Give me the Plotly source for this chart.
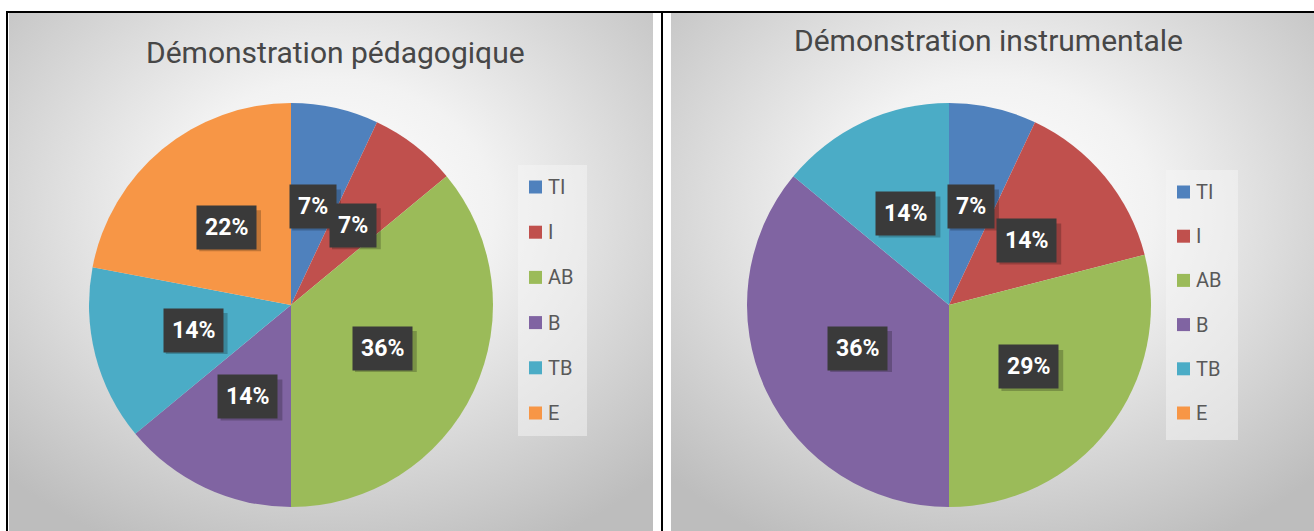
import base64
import math
import plotly.graph_objects as go

# ---------------- data ----------------
categories = ["TI", "I", "AB", "B", "TB", "E"]
ped_values = [7, 7, 36, 14, 14, 22]          # Démonstration pédagogique (%)
instr_values = [7, 14, 29, 36, 14, 0]        # Démonstration instrumentale (%)
titles = ["Démonstration pédagogique", "Démonstration instrumentale"]
colors = ["#4F81BD", "#C0504D", "#9BBB59", "#8064A2", "#4BACC6", "#F79646"]

W, H = 1314, 531


def px(x):
    return x / W


def py(y):
    return 1 - y / H


# panel geometry (pixels)
panels = [
    dict(box=(9, 13, 653, 531), center=(291, 305), radius=202,
         title=(335, 52), legend_box=(518, 165, 587, 436),
         legend_sq_x=529, legend_y0=187, legend_dy=45.2, values=ped_values),
    dict(box=(671, 13, 1314, 531), center=(949, 305), radius=202,
         title=(988, 40), legend_box=(1166, 170, 1238, 440),
         legend_sq_x=1177, legend_y0=192, legend_dy=44.2, values=instr_values),
]

FONT = "Roboto, 'Open Sans', 'DejaVu Sans', sans-serif"
LABEL_SIZE = 23
PAD = 8

fig = go.Figure()
shapes = []
annotations = []
images = []

svg = (
    '<svg xmlns="http://www.w3.org/2000/svg" width="640" height="520" preserveAspectRatio="none">'
    '<defs><radialGradient id="g" cx="50%" cy="38%" r="72%">'
    '<stop offset="0" stop-color="#ffffff"/>'
    '<stop offset="0.35" stop-color="#f2f2f2"/>'
    '<stop offset="1" stop-color="#bdbdbd"/>'
    '</radialGradient></defs>'
    '<rect x="0" y="0" width="640" height="520" fill="url(#g)"/></svg>'
)
bg_src = "data:image/svg+xml;base64," + base64.b64encode(svg.encode()).decode()


def label_width(txt):
    # approximate rendered width of bold label text (digits + %)
    w = 0
    for ch in txt:
        w += 0.73 if ch == "%" else 0.565
    return w * LABEL_SIZE + 2 * PAD + 2


for p, title in zip(panels, titles):
    x0, y0, x1, y1 = p["box"]
    images.append(dict(source=bg_src, xref="paper", yref="paper",
                       x=px(x0), y=py(y0), sizex=px(x1) - px(x0), sizey=(y1 - y0) / H,
                       xanchor="left", yanchor="top", sizing="stretch", layer="below"))

    cx, cy = p["center"]
    R = p["radius"]
    fig.add_trace(go.Pie(
        labels=categories, values=p["values"], sort=False, direction="clockwise",
        rotation=0, textinfo="none", showlegend=False,
        marker=dict(colors=colors, line=dict(width=0)),
        domain=dict(x=[px(cx - R), px(cx + R)], y=[py(cy + R), py(cy - R)]),
        hovertemplate="%{label}: %{value}%<extra></extra>",
    ))

    # data labels (dark boxes) placed at the middle angle of each slice
    total = sum(p["values"])
    cum = 0
    for v in p["values"]:
        if v > 0:
            frac = (cum + v / 2) / total
            ang = 2 * math.pi * frac
            r = 0.5 * R
            lx = cx + r * math.sin(ang)
            ly = cy - r * math.cos(ang)
            txt = f"{v}%"
            bw = label_width(txt)
            bh = 40
            # soft drop shadow behind the label box
            shapes.append(dict(type="rect", xref="paper", yref="paper",
                               x0=px(lx - bw / 2 + 3), x1=px(lx + bw / 2 + 4),
                               y0=py(ly + bh / 2 + 4), y1=py(ly - bh / 2 + 3),
                               fillcolor="rgba(0,0,0,0.22)", line=dict(width=0)))
            annotations.append(dict(
                x=px(lx), y=py(ly), xref="paper", yref="paper", showarrow=False,
                text=f"<b>{txt}</b>", font=dict(family=FONT, size=LABEL_SIZE, color="white"),
                bgcolor="#3a3a3a", borderpad=PAD, xanchor="center", yanchor="middle"))
        cum += v

    # title
    tx, ty = p["title"]
    annotations.append(dict(x=px(tx), y=py(ty), xref="paper", yref="paper",
                            showarrow=False, text=title,
                            font=dict(family=FONT, size=30, color="#474747"),
                            xanchor="center", yanchor="middle"))

    # legend
    lx0, ly0, lx1, ly1 = p["legend_box"]
    shapes.append(dict(type="rect", xref="paper", yref="paper",
                       x0=px(lx0), x1=px(lx1), y0=py(ly1), y1=py(ly0),
                       fillcolor="rgba(245,245,245,0.5)", line=dict(width=0), layer="below"))
    for i, (cat, col) in enumerate(zip(categories, colors)):
        iy = p["legend_y0"] + i * p["legend_dy"]
        sx = p["legend_sq_x"]
        shapes.append(dict(type="rect", xref="paper", yref="paper",
                           x0=px(sx), x1=px(sx + 13), y0=py(iy + 6.5), y1=py(iy - 6.5),
                           fillcolor=col, line=dict(width=0)))
        annotations.append(dict(x=px(sx + 17), y=py(iy), xref="paper", yref="paper",
                                showarrow=False, text=cat,
                                font=dict(family=FONT, size=20, color="#595959"),
                                xanchor="left", yanchor="middle"))

# black frame lines
for (a, b, c, d) in [(6, 11, W, 13), (6, 11, 8, H), (661, 11, 663, H)]:
    shapes.append(dict(type="rect", xref="paper", yref="paper",
                       x0=px(a), x1=px(c), y0=py(d), y1=py(b),
                       fillcolor="black", line=dict(width=0)))

fig.update_layout(
    width=W, height=H, margin=dict(l=0, r=0, t=0, b=0),
    paper_bgcolor="white", plot_bgcolor="white",
    shapes=shapes, annotations=annotations, images=images,
    showlegend=False,
)

fig.write_html("out.html", config={"displayModeBar": False},
               post_script="document.body.style.margin='0';document.body.style.overflow='hidden';")
